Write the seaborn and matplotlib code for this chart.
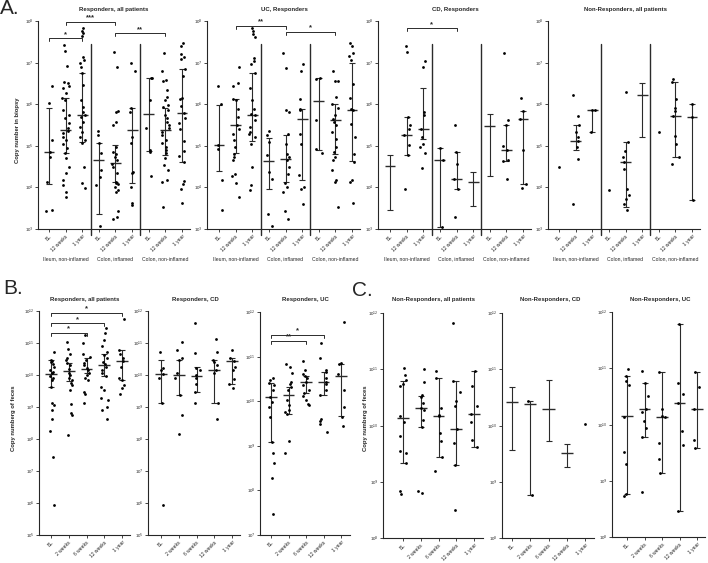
import numpy as np
import pandas as pd
import matplotlib
matplotlib.use("Agg")
import matplotlib.pyplot as plt
import matplotlib.transforms as mtransforms
from matplotlib.ticker import NullLocator
import seaborn as sns

# values are log10 copy numbers

# ---- A: biopsy, 9 groups (ileum / colon inflamed / colon non-inflamed x BL, 12 weeks, 1 year)
a_keys = ["i_bl", "i_12", "i_1y", "ci_bl", "ci_12", "ci_1y", "cn_bl", "cn_12", "cn_1y"]
a_ticks = ["BL", "12 weeks", "1 year"] * 3
a_groups = ["Ileum, non-inflamed", "Colon, inflamed", "Colon, non-inflamed"]

A1_pts = [
    [6.44, 6.02, 5.15, 4.86, 4.74, 4.14, 3.46, 3.44],
    [7.43, 7.28, 6.91, 6.54, 6.5, 6.43, 6.38, 6.26, 6.14, 6.1, 5.86, 5.74, 5.66, 5.54, 5.42, 5.36, 5.3,
     5.22, 5.14, 5.04, 4.94, 4.82, 4.7, 4.5, 4.34, 4.18, 4.06, 3.9, 3.78],
    [7.83, 7.76, 7.7, 7.63, 7.14, 7.07, 6.98, 6.9, 6.75, 6.46, 6.1, 5.94, 5.82, 5.74, 5.7, 5.58, 5.46,
     5.34, 5.22, 5.14, 5.06, 4.5, 4.1, 3.98],
    [5.36, 5.26, 5.06, 4.82, 4.42, 4.26, 4.06, 3.07],
    [7.26, 6.9, 5.84, 5.82, 5.58, 5.5, 4.98, 4.86, 4.8, 4.74, 4.67, 4.56, 4.5, 4.34, 4.14, 4.11, 4.08,
     4.02, 3.94, 3.9, 3.44, 3.3, 3.23],
    [6.98, 6.8, 5.9, 5.82, 5.22, 5.06, 4.38, 4.34, 4.02, 3.62, 3.58],
    [6.64, 6.62, 6.1, 5.42, 4.9, 4.86, 4.27],
    [7.23, 6.8, 6.58, 6.56, 6.34, 6.18, 6.1, 5.98, 5.94, 5.86, 5.74, 5.66, 5.58, 5.5, 5.42, 5.34, 5.26,
     5.14, 5.06, 4.96, 4.9, 4.82, 4.7, 4.54, 4.42, 4.18, 4.14, 3.54],
    [7.46, 7.4, 7.2, 7.14, 7.08, 6.84, 6.68, 6.16, 6.12, 5.96, 5.8, 5.68, 5.56, 5.4, 5.12, 4.88, 4.76,
     4.6, 4.16, 4.08, 3.96, 3.62],
]
A1_med = [4.86, 5.39, 5.74, 4.66, 4.58, 5.39, 5.76, 5.39, 5.78]
A1_lo = [4.08, 4.82, 5.1, 3.36, 4.14, 4.11, 4.88, 4.78, 4.6]
A1_hi = [5.92, 6.14, 6.75, 5.07, 5.02, 5.9, 6.62, 5.9, 6.84]

A2_pts = [
    [6.43, 6.0, 5.01, 4.93, 4.17, 3.45],
    [6.9, 6.52, 6.44, 6.13, 6.09, 5.89, 5.69, 5.49, 5.41, 5.29, 5.13, 4.97, 4.81, 4.73, 4.65, 4.33, 4.27,
     4.11, 3.77],
    [7.84, 7.76, 7.68, 7.62, 7.12, 7.04, 6.96, 6.76, 6.4, 6.09, 5.89, 5.77, 5.73, 5.61, 5.45, 5.33, 5.29,
     5.21, 5.05, 4.49, 4.05, 3.93],
    [5.35, 5.25, 5.09, 4.77, 4.37, 4.21, 3.37, 3.08],
    [7.24, 6.88, 5.85, 5.81, 5.29, 5.05, 4.81, 4.73, 4.67, 4.49, 4.33, 4.11, 4.01, 3.89, 3.44, 3.23],
    [6.96, 6.79, 6.13, 5.89, 5.85, 5.29, 5.05, 4.29, 4.01, 3.97, 3.61],
    [6.64, 6.6, 5.61, 4.93, 4.83],
    [6.79, 6.56, 6.55, 6.17, 6.01, 5.91, 5.73, 5.65, 5.57, 5.49, 5.33, 5.17, 4.97, 4.85, 4.73, 4.65, 4.41,
     4.17, 4.13, 3.53],
    [7.46, 7.4, 7.24, 7.16, 7.06, 6.48, 6.16, 5.89, 5.85, 5.53, 5.21, 4.81, 4.61, 4.17, 4.13, 3.63],
]
A2_med = [5.03, 5.49, 5.73, 4.63, 4.69, 5.65, 6.07, 5.62, 5.85]
A2_lo = [4.39, 4.83, 5.11, 3.95, 4.13, 4.17, 4.91, 4.81, 4.63]
A2_hi = [5.97, 6.13, 6.74, 5.18, 5.25, 5.89, 6.62, 6.01, 7.0]

A3_pts = [
    [],
    [7.41, 7.26, 5.7, 5.51, 5.41, 5.25, 5.01, 4.77, 3.95],
    [7.05, 6.89, 5.81, 5.73, 5.41, 5.21, 5.05, 4.97, 4.83, 4.47],
    [4.95, 4.66, 3.04],
    [5.49, 4.85, 4.57, 4.21, 3.95, 3.28],
    [],
    [],
    [7.22, 5.62, 5.51, 4.99, 4.89, 4.66, 4.63, 4.21],
    [6.15, 5.84, 5.65, 4.89, 4.07, 3.99],
]
A3_med = [4.51, 5.25, 5.41, 4.66, 4.21, 4.13, 5.47, 4.89, 5.65]
A3_lo = [3.45, 4.79, 5.17, 3.04, 3.95, 3.56, 4.27, 4.63, 4.07]
A3_hi = [4.79, 5.7, 6.39, 4.95, 4.85, 4.37, 5.77, 5.51, 5.84]

A4_pts = [
    [4.5],
    [6.23, 5.71, 5.5, 5.32, 5.2, 5.12, 4.98, 4.68, 3.6],
    [5.87, 5.85, 5.34],
    [3.94],
    [6.29, 5.08, 4.88, 4.72, 4.6, 4.44, 3.97, 3.81, 3.73, 3.61, 3.45],
    [],
    [5.33],
    [6.61, 6.53, 6.13, 5.9, 5.84, 5.71, 5.24, 5.04, 4.72, 4.56],
    [6.0, 5.7, 3.69],
]
A4_med = [None, 5.12, 5.85, None, 4.6, 6.23, None, 5.71, 5.7]
A4_lo = [None, 4.9, 5.34, None, 3.53, 5.21, None, 4.72, 3.69]
A4_hi = [None, 5.5, 5.87, None, 5.08, 6.51, None, 6.53, 6.0]

# ---- B / C: feces, 5 time points
f_keys = ["bl", "w2", "w6", "w12", "y1"]
f_ticks = ["BL", "2 weeks", "6 weeks", "12 weeks", "1 year"]

B1_pts = [
    [10.72, 10.46, 10.44, 10.41, 10.34, 10.25, 10.17, 10.1, 10.05, 9.96, 9.92, 9.84, 9.63, 9.11, 9.06,
     8.9, 8.61, 8.26, 7.45, 5.94],
    [11.04, 10.8, 10.67, 10.52, 10.46, 10.36, 10.31, 10.2, 10.07, 10.0, 9.92, 9.84, 9.76, 9.68, 9.53,
     9.09, 8.8, 8.75, 8.12],
    [11.24, 11.0, 10.67, 10.57, 10.48, 10.38, 10.31, 10.23, 10.15, 10.07, 10.0, 9.92, 9.84, 9.47, 9.42, 9.13],
    [11.48, 11.3, 11.09, 10.9, 10.72, 10.62, 10.52, 10.41, 10.34, 10.25, 10.17, 10.05, 9.96, 9.63, 9.53,
     9.27, 9.21, 9.01, 8.9, 8.64],
    [11.76, 10.77, 10.67, 10.52, 10.44, 10.25, 9.92, 9.84, 9.68, 9.58, 9.42],
]
B1_med = [10.03, 10.13, 10.2, 10.31, 10.44]
B1_lo = [9.63, 9.81, 10.07, 9.96, 9.84]
B1_hi = [10.46, 10.38, 10.52, 10.67, 10.77]

B2_pts = [
    [10.72, 10.23, 10.15, 10.03, 9.92, 9.11, 5.94],
    [11.04, 10.77, 10.52, 10.46, 10.05, 9.92, 9.37, 8.75, 8.15],
    [11.64, 10.69, 10.23, 10.15, 10.0, 9.92, 9.71, 9.47, 9.14],
    [11.11, 10.72, 10.46, 10.41, 10.31, 10.17, 10.07, 9.11, 8.64],
    [10.77, 10.52, 10.44, 10.25, 10.15, 9.89, 9.71, 9.58],
]
B2_med = [10.03, 10.0, 9.96, 10.15, 10.44]
B2_lo = [9.13, 9.37, 9.47, 9.13, 9.71]
B2_hi = [10.46, 10.48, 10.25, 10.46, 10.52]

B3_pts = [
    [10.51, 10.47, 10.41, 10.36, 10.25, 10.1, 9.99, 9.87, 9.65, 9.09, 8.83, 8.62, 8.27, 7.47],
    [10.83, 10.77, 10.63, 10.43, 10.38, 10.32, 10.25, 10.02, 9.91, 9.8, 9.76, 9.72, 9.11, 8.84],
    [10.9, 10.69, 10.62, 10.56, 10.51, 10.43, 10.36, 10.25, 10.19, 10.11, 10.02, 9.93, 9.91],
    [11.31, 10.96, 10.69, 10.66, 10.53, 10.43, 10.38, 10.25, 10.13, 9.61, 9.56, 9.49, 9.31],
    [11.78, 10.86, 10.83, 10.62, 10.25, 9.87, 9.65, 9.44],
]
B3_med = [10.1, 10.13, 10.43, 10.43, 10.56]
B3_lo = [9.09, 9.72, 10.19, 10.13, 9.66]
B3_hi = [10.41, 10.32, 10.56, 10.66, 10.83]

C1_pts = [
    [11.03, 10.9, 10.81, 10.73, 10.7, 10.17, 10.07, 9.81, 9.54, 9.51, 9.33, 8.83, 8.79],
    [11.0, 10.77, 10.55, 10.51, 10.4, 10.31, 10.27, 10.1, 9.97, 8.83, 8.8],
    [10.97, 10.84, 10.31, 10.19, 10.17, 9.87, 9.72, 9.44, 9.19],
    [11.83, 10.79, 10.59, 10.43, 10.34, 9.94, 9.69, 9.3, 8.49],
    [10.97, 10.71, 10.34, 10.21, 10.07, 9.75, 9.62],
]
C1_med = [10.13, 10.31, 10.17, 9.93, 10.21]
C1_lo = [9.33, 9.97, 9.44, 9.3, 9.62]
C1_hi = [10.8, 10.53, 10.84, 10.79, 10.97]

C2_pts = [[], [10.43, 8.76], [], [], [10.03]]
C2_med = [10.41, 10.38, 10.29, 9.51, None]
C2_lo = [9.57, 8.76, 9.73, 9.26, None]
C2_hi = [10.68, 10.43, 10.81, 9.67, None]

C3_pts = [
    [10.99, 10.86, 10.77, 10.7, 10.13, 9.51, 9.3, 8.77, 8.72],
    [10.96, 10.73, 10.5, 10.28, 10.22, 10.07, 9.93, 9.78, 8.8],
    [10.93, 10.28, 10.15, 10.13, 9.67, 9.39, 9.14],
    [11.79, 10.74, 10.55, 10.38, 9.88, 9.63, 8.46],
    [10.93, 10.67, 10.28, 9.72, 9.59],
]
C3_med = [10.15, 10.28, 10.13, 10.38, 10.28]
C3_lo = [8.77, 9.78, 9.14, 8.46, 9.59]
C3_hi = [10.86, 10.73, 10.93, 11.79, 10.93]

# ---------------------------------------------------------------
sns.set_style("ticks")
plt.rcParams['font.family'] = ['Liberation Sans', 'DejaVu Sans']
plt.rcParams['axes.linewidth'] = 0.8
np.random.seed(4)

W, H = 708, 563
fig = plt.figure(figsize=(W / 100, H / 100), dpi=100)
LINE = "#2b2b2b"


def panel(box, keys, ticks, pts, med, lo, hi, ylo, yhi):
    left, first, last, right, top, bottom = box
    ax = fig.add_axes([left / W, 1 - bottom / H, (right - left) / W, (bottom - top) / H])
    df = pd.DataFrame({
        "cat": [k for k, p in zip(keys, pts) for _ in p],
        "val": [10.0 ** v for p in pts for v in p],
    })
    sns.stripplot(data=df, x="cat", y="val", order=keys, ax=ax, color="black",
                  size=2.0, jitter=0.2, linewidth=0, log_scale=True)
    xs = np.array([i for i, m in enumerate(med) if m is not None])
    m = np.array([10.0 ** med[i] for i in xs])
    l = np.array([10.0 ** lo[i] for i in xs])
    h = np.array([10.0 ** hi[i] for i in xs])
    ax.errorbar(xs, m, yerr=[m - l, h - m], fmt="none", ecolor=LINE,
                elinewidth=0.8, capsize=2.4, capthick=0.8)
    ax.hlines(m, xs - 0.33, xs + 0.33, colors=LINE, lw=1.0)

    n = len(keys)
    s = (last - first) / (n - 1)
    ax.set_xlim(-(first - left) / s, n - 1 + (right - last) / s)
    ax.set_ylim(10.0 ** ylo, 10.0 ** yhi)
    ax.set_yticks([10.0 ** e for e in range(ylo, yhi + 1)])
    ax.set_yticklabels([f"10$^{{{e}}}$" for e in range(ylo, yhi + 1)])
    ax.yaxis.set_minor_locator(NullLocator())
    ax.set_xticks(range(n))
    ax.set_xticklabels(ticks, rotation=45, ha="right", rotation_mode="anchor")
    ax.tick_params(length=2, width=0.6, labelsize=3.6, pad=1.5)
    ax.tick_params(axis="y", labelsize=3.2, pad=1.2)
    ax.set_xlabel("")
    ax.set_ylabel("")
    sns.despine(ax=ax)
    ax.ppd = (bottom - top) / (yhi - ylo)  # pixels per decade
    return ax


def bracket(ax, x1, x2, yexp, stars):
    d = 3.0 / ax.ppd
    ys = [10 ** (yexp - d), 10 ** yexp, 10 ** yexp, 10 ** (yexp - d)]
    ax.plot([x1, x1, x2, x2], ys, color=LINE, lw=0.7, clip_on=False)
    ax.text((x1 + x2) / 2, 10 ** (yexp + 0.5 / ax.ppd), stars, ha="center", va="bottom",
            fontsize=5.5, fontweight="bold", clip_on=False)


def biopsy_extras(ax, bottom, top):
    trans = mtransforms.blended_transform_factory(ax.transData, ax.transAxes)
    htot = bottom - top
    for xsep in (2.5, 5.5):
        ax.plot([xsep, xsep], [(bottom - 44) / htot, -6 / htot], transform=trans,
                color=LINE, lw=1.0, clip_on=False)
    for gi, g in enumerate(a_groups):
        ax.text(gi * 3 + 1, -(259 - bottom) / htot, g, transform=trans,
                ha="center", va="center", fontsize=3.7)


# ---- panel A
axA1 = panel((38, 49, 182, 190, 21, 229), a_keys, a_ticks, A1_pts, A1_med, A1_lo, A1_hi, 3, 8)
axA2 = panel((207, 219, 352, 360, 21, 229), a_keys, a_ticks, A2_pts, A2_med, A2_lo, A2_hi, 3, 8)
axA3 = panel((378, 390, 523, 531, 21, 229), a_keys, a_ticks, A3_pts, A3_med, A3_lo, A3_hi, 3, 8)
axA4 = panel((548, 559, 692, 700, 21, 229), a_keys, a_ticks, A4_pts, A4_med, A4_lo, A4_hi, 3, 8)
for ax in (axA1, axA2, axA3, axA4):
    biopsy_extras(ax, 229, 21)

bracket(axA1, 0, 2, 7.58, "*")
bracket(axA1, 1, 4, 7.98, "***")
bracket(axA1, 4, 7, 7.7, "**")
bracket(axA2, 1, 4, 7.88, "**")
bracket(axA2, 4, 7, 7.74, "*")
bracket(axA3, 1, 4, 7.82, "*")

# ---- panel B
axB1 = panel((39, 51, 122, 130, 311, 535), f_keys, f_ticks, B1_pts, B1_med, B1_lo, B1_hi, 5, 12)
axB2 = panel((148, 161, 232, 240, 311, 535), f_keys, f_ticks, B2_pts, B2_med, B2_lo, B2_hi, 5, 12)
axB3 = panel((260, 271, 341, 350, 312, 535), f_keys, f_ticks, B3_pts, B3_med, B3_lo, B3_hi, 7, 12)
bracket(axB1, 0, 2, 11.32, "*")
bracket(axB1, 0, 3, 11.61, "*")
bracket(axB1, 0, 4, 11.94, "*")
bracket(axB3, 0, 2, 11.35, "**")
bracket(axB3, 0, 3, 11.48, "*")

# ---- panel C
axC1 = panel((383, 403, 474, 483, 313, 538), f_keys, f_ticks, C1_pts, C1_med, C1_lo, C1_hi, 8, 12)
axC2 = panel((502, 512, 585, 594, 313, 538), f_keys, f_ticks, C2_pts, C2_med, C2_lo, C2_hi, 8, 12)
axC3 = panel((612, 627, 697, 705, 312, 537), f_keys, f_ticks, C3_pts, C3_med, C3_lo, C3_hi, 8, 12)

# ---- titles and labels (pixel positions)
def ftext(x, y, s, **kw):
    fig.text(x / W, 1 - y / H, s, **kw)


titles = [
    (114, 9, "Responders, all patients"), (284, 9, "UC, Responders"),
    (455, 9, "CD, Responders"), (625, 9, "Non-Responders, all patients"),
    (85, 300, "Responders, all patients"), (195, 300, "Responders, CD"),
    (305, 300, "Responders, UC"), (433, 300, "Non-Responders, all patients"),
    (550, 300, "Non-Responders, CD"), (660, 300, "Non-Responders, UC"),
]
for x, y, t in titles:
    ftext(x, y, t, ha="center", va="center", fontsize=4.3, fontweight="bold")

ftext(18, 130, "Copy number in biopsy", rotation=90, ha="center", va="center",
      fontsize=4.2, fontweight="bold")
ftext(14, 418, "Copy numberg of feces", rotation=90, ha="center", va="center",
      fontsize=4.2, fontweight="bold")
ftext(366, 418, "Copy numberg of feces", rotation=90, ha="center", va="center",
      fontsize=4.2, fontweight="bold")

ftext(0, 8, "A.", ha="left", va="center", fontsize=15)
ftext(3, 289, "B.", ha="left", va="center", fontsize=15)
ftext(352, 290, "C.", ha="left", va="center", fontsize=15)

fig.savefig("out.png", dpi=100)
